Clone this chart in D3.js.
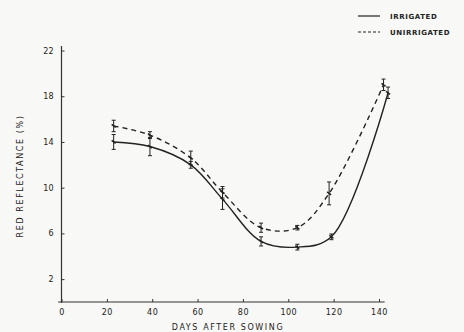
<!DOCTYPE html>
<html lang="en">
<head>
<meta charset="UTF-8" />
<title>Red reflectance</title>
<script src="https://d3js.org/d3.v7.min.js"></script>
<style>
  body { margin: 0; background: #f8f8f6; }
  svg text { font-family: "DejaVu Sans", sans-serif; fill: #222; }
</style>
</head>
<body>
<div id="chart"></div>
<script>
// values
var days       = [23, 39, 57, 71, 88, 104, 119, 144];
var irrigated  = [14.0, 13.6, 12.0, 9.0, 5.3, 4.8, 5.7, 18.3];
var irrErr     = [0.65, 0.8, 0.3, 0.9, 0.4, 0.25, 0.25, 0.5];
var daysU      = [23, 39, 57, 71, 88, 104, 118, 142];
var unirrigated = [15.4, 14.6, 12.6, 9.6, 6.5, 6.5, 9.5, 19.0];
var unirrErr   = [0.5, 0.3, 0.6, 0.5, 0.4, 0.2, 1.0, 0.5];
var xTicks = [0, 20, 40, 60, 80, 100, 120, 140];
var yTicks = [2, 6, 10, 14, 18, 22];

var W = 464, H = 332;
var svg = d3.select("#chart").append("svg")
    .attr("width", W).attr("height", H);

var x = d3.scaleLinear().domain([0, 140]).range([61.5, 379]);
var y = d3.scaleLinear().domain([0, 22]).range([302, 50.5]);

// axis lines
svg.append("line")
    .attr("x1", x(-1.5)).attr("x2", x(142.5))
    .attr("y1", y(0)).attr("y2", y(0))
    .attr("stroke", "#333").attr("stroke-width", 1.2);
svg.append("line")
    .attr("x1", x(0)).attr("x2", x(0))
    .attr("y1", y(0) + 1).attr("y2", y(22.4))
    .attr("stroke", "#333").attr("stroke-width", 1.2);

var xAxis = svg.append("g")
    .attr("transform", "translate(0," + y(0) + ")")
    .call(d3.axisBottom(x).tickValues(xTicks).tickSize(-3).tickPadding(7));
xAxis.select(".domain").remove();
xAxis.selectAll("text").style("font-size", "8px").style("letter-spacing", "0.5px");

var yAxis = svg.append("g")
    .attr("transform", "translate(" + x(0) + ",0)")
    .call(d3.axisLeft(y).tickValues(yTicks).tickSize(-3).tickPadding(8));
yAxis.select(".domain").remove();
yAxis.selectAll("text").style("font-size", "8px");
svg.selectAll(".tick line").attr("stroke", "#333");

// axis titles
svg.append("text")
    .attr("x", 228).attr("y", 330)
    .attr("text-anchor", "middle")
    .style("font-size", "8px").style("letter-spacing", "1.6px")
    .text("DAYS AFTER SOWING");
svg.append("text")
    .attr("transform", "translate(23,176) rotate(-90)")
    .attr("text-anchor", "middle")
    .style("font-size", "8px").style("letter-spacing", "1.6px")
    .text("RED REFLECTANCE (%)");

// curves
var line = d3.line()
    .curve(d3.curveCatmullRom.alpha(0.5))
    .x(function(d) { return x(d[0]); })
    .y(function(d) { return y(d[1]); });

svg.append("path")
    .datum(days.map(function(d, i) { return [d, irrigated[i]]; }))
    .attr("fill", "none").attr("stroke", "#222").attr("stroke-width", 1.4)
    .attr("d", line);
svg.append("path")
    .datum(daysU.map(function(d, i) { return [d, unirrigated[i]]; }))
    .attr("fill", "none").attr("stroke", "#222").attr("stroke-width", 1.4)
    .attr("stroke-dasharray", "5,4")
    .attr("d", line);

// error bars
function bars(xs, vals, errs) {
  var g = svg.append("g").attr("stroke", "#222").attr("stroke-width", 1);
  xs.forEach(function(d, i) {
    var cx = x(d), top = y(vals[i] + errs[i]), bot = y(vals[i] - errs[i]), cy = y(vals[i]);
    g.append("line").attr("x1", cx).attr("x2", cx).attr("y1", top).attr("y2", bot);
    g.append("line").attr("x1", cx - 2).attr("x2", cx + 2).attr("y1", top).attr("y2", top);
    g.append("line").attr("x1", cx - 2).attr("x2", cx + 2).attr("y1", bot).attr("y2", bot);
    g.append("line").attr("x1", cx - 2).attr("x2", cx + 2).attr("y1", cy - 1.5).attr("y2", cy + 1.5)
        .attr("stroke-width", 1.6);
  });
}
bars(days, irrigated, irrErr);
bars(daysU, unirrigated, unirrErr);

// legend
var legend = [["IRRIGATED", null, 16], ["UNIRRIGATED", "3,2", 32]];
legend.forEach(function(l) {
  svg.append("line")
      .attr("x1", 358).attr("x2", 380).attr("y1", l[2]).attr("y2", l[2])
      .attr("stroke", "#222").attr("stroke-width", 1.2)
      .attr("stroke-dasharray", l[1]);
  svg.append("text")
      .attr("x", 390).attr("y", l[2] + 3)
      .style("font-size", "7px").style("font-weight", "bold").style("letter-spacing", "0.6px")
      .text(l[0]);
});
</script>
</body>
</html>
